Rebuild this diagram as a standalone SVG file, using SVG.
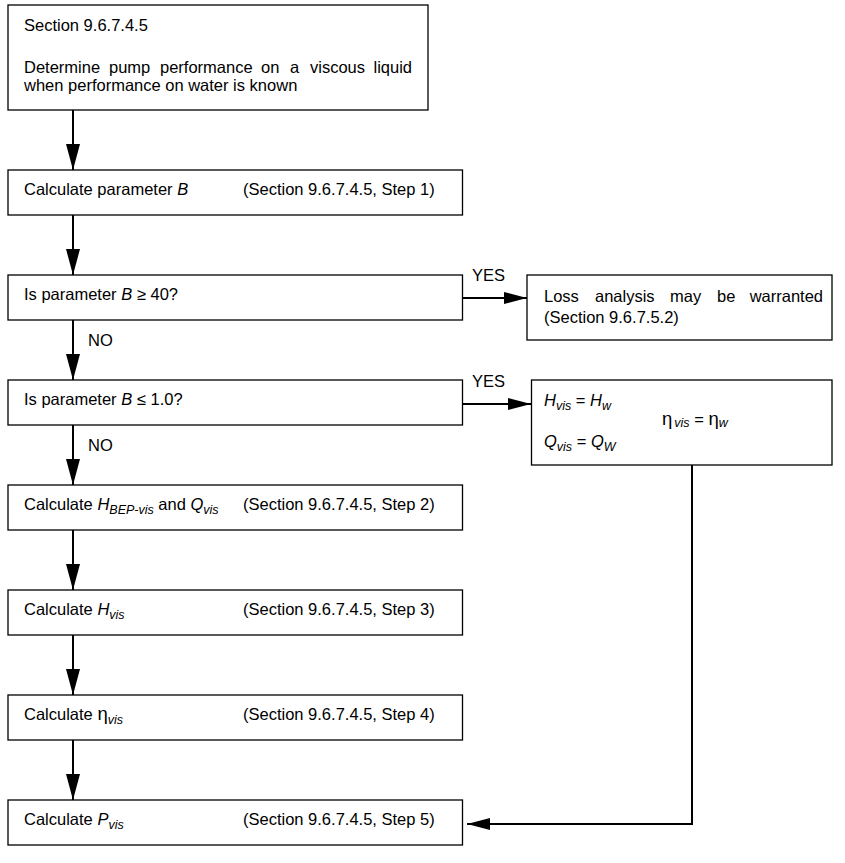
<svg xmlns="http://www.w3.org/2000/svg" width="845" height="863" viewBox="0 0 845 863">
<style>
.box{fill:#fff;stroke:#000;stroke-width:1.3}
text{font-family:"Liberation Sans",Arial,Helvetica,sans-serif;font-size:16.5px;fill:#000}
.i{font-style:italic}
.sub{font-style:italic;font-size:12.5px}
.eta{font-size:18.5px}
.con{fill:none;stroke:#000;stroke-width:2}
</style>
<defs>
<marker id="ah" viewBox="0 0 26 14" refX="26" refY="7" markerWidth="26" markerHeight="14" markerUnits="userSpaceOnUse" orient="auto">
<path d="M0,0 L26,7 L0,14 Z" fill="#000"/>
</marker>
<marker id="ahs" viewBox="0 0 23 12" refX="23" refY="6" markerWidth="23" markerHeight="12" markerUnits="userSpaceOnUse" orient="auto">
<path d="M0,0 L23,6 L0,12 Z" fill="#000"/>
</marker>
</defs>
<rect width="845" height="863" fill="#fff"/>

<g id="connectors">
<path class="con" d="M73,110 V170" marker-end="url(#ah)"/>
<path class="con" d="M73,215 V275" marker-end="url(#ah)"/>
<path class="con" d="M73,320 V380" marker-end="url(#ah)"/>
<path class="con" d="M73,425 V485" marker-end="url(#ah)"/>
<path class="con" d="M73,530 V590" marker-end="url(#ah)"/>
<path class="con" d="M73,635 V695" marker-end="url(#ah)"/>
<path class="con" d="M73,740 V800" marker-end="url(#ah)"/>
<path class="con" d="M462.5,298 H527" marker-end="url(#ahs)"/>
<path class="con" d="M462.5,404 H531" marker-end="url(#ahs)"/>
<path class="con" d="M692,465 V824 H467" marker-end="url(#ahs)"/>
<text x="472" y="281">YES</text>
<text x="472" y="387">YES</text>
<text x="88" y="346">NO</text>
<text x="88" y="451">NO</text>
</g>

<g id="start">
<rect class="box" x="8" y="5" width="420" height="105"/>
<text x="24" y="31">Section 9.6.7.4.5</text>
<text y="73"><tspan x="24">Determine</tspan><tspan x="109">pump</tspan><tspan x="160">performance</tspan><tspan x="261">on</tspan><tspan x="290">a</tspan><tspan x="310">viscous</tspan><tspan x="412" text-anchor="end">liquid</tspan></text>
<text x="24" y="91">when performance on water is known</text>
</g>

<g id="step1">
<rect class="box" x="8" y="170" width="454.5" height="45"/>
<text x="24" y="195">Calculate parameter <tspan class="i">B</tspan></text>
<text x="243" y="195">(Section 9.6.7.4.5, Step 1)</text>
</g>

<g id="check40">
<rect class="box" x="8" y="275" width="454.5" height="45"/>
<text x="24" y="300">Is parameter <tspan class="i">B</tspan> ≥ 40?</text>
</g>

<g id="loss">
<rect class="box" x="527" y="275" width="305" height="65"/>
<text y="302"><tspan x="544">Loss</tspan><tspan x="595">analysis</tspan><tspan x="670">may</tspan><tspan x="717">be</tspan><tspan x="823" text-anchor="end">warranted</tspan></text>
<text x="544" y="323">(Section 9.6.7.5.2)</text>
</g>

<g id="check1">
<rect class="box" x="8" y="380" width="454.5" height="45"/>
<text x="24" y="405">Is parameter <tspan class="i">B</tspan> ≤ 1.0?</text>
</g>

<g id="water">
<rect class="box" x="531.5" y="380" width="300.5" height="85"/>
<text x="544" y="406"><tspan class="i">H</tspan><tspan class="sub" dy="4">vis</tspan><tspan dy="-4"> = </tspan><tspan class="i">H</tspan><tspan class="sub" dy="4">w</tspan></text>
<text x="544" y="447"><tspan class="i">Q</tspan><tspan class="sub" dy="4">vis</tspan><tspan dy="-4"> = </tspan><tspan class="i">Q</tspan><tspan class="sub" dy="4">W</tspan></text>
<text x="662" y="425"><tspan class="eta">η</tspan><tspan class="sub" dx="2" dy="2">vis</tspan><tspan dy="-2"> = </tspan><tspan class="eta">η</tspan><tspan class="sub" dy="2">w</tspan></text>
</g>

<g id="step2">
<rect class="box" x="8" y="485" width="454.5" height="45"/>
<text x="24" y="510">Calculate <tspan class="i">H</tspan><tspan class="sub" dy="4">BEP-vis</tspan><tspan dy="-4"> and </tspan><tspan class="i">Q</tspan><tspan class="sub" dy="4">vis</tspan></text>
<text x="243" y="510">(Section 9.6.7.4.5, Step 2)</text>
</g>

<g id="step3">
<rect class="box" x="8" y="590" width="454.5" height="45"/>
<text x="24" y="615">Calculate <tspan class="i">H</tspan><tspan class="sub" dy="4">vis</tspan></text>
<text x="243" y="615">(Section 9.6.7.4.5, Step 3)</text>
</g>

<g id="step4">
<rect class="box" x="8" y="695" width="454.5" height="45"/>
<text x="24" y="720">Calculate <tspan class="eta">η</tspan><tspan class="sub" dy="4">vis</tspan></text>
<text x="243" y="720">(Section 9.6.7.4.5, Step 4)</text>
</g>

<g id="step5">
<rect class="box" x="8" y="800" width="454.5" height="45"/>
<text x="24" y="825">Calculate <tspan class="i">P</tspan><tspan class="sub" dy="4">vis</tspan></text>
<text x="243" y="825">(Section 9.6.7.4.5, Step 5)</text>
</g>
</svg>
